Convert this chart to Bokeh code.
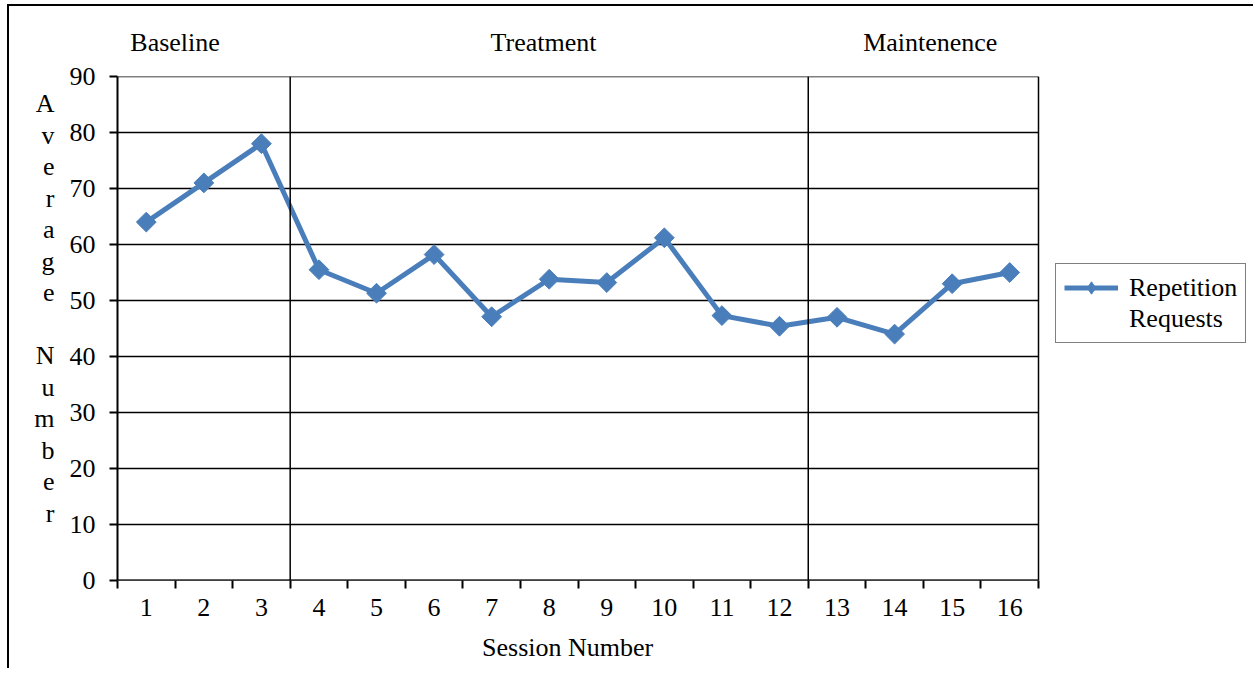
from bokeh.plotting import figure
from bokeh.layouts import column
from bokeh.models import (Range1d, FixedTicker, Span, Legend, LegendItem, LinearAxis, AllLabels)
from bokeh.embed import file_html
from bokeh.resources import INLINE
import numpy as np

# Average number of repetition requests per session
sessions = list(range(1, 17))
requests = [64.0, 71.0, 78.0, 55.5, 51.3, 58.2, 47.1, 53.8, 53.2, 61.2, 47.3, 45.4, 47.0, 44.0, 53.0, 55.0]
tick_labels = [str(s) for s in sessions]
phase_names = ["Baseline", "Treatment", "Maintenence"]
phase_breaks = [3.5, 12.5]
y_ticks = list(range(0, 91, 10))
y_title = "Average Number"
x_title = "Session Number"
series_name = ["Repetition", "Requests"]

FONT = "Liberation Serif"
FS = "26px"
BLUE = "#4a7ebb"

# canvas / plotting-area geometry (pixels)
W, H = 1246, 664
LEFT, TOP, BOTTOM = 108, 70, 90
AREA_W = 921                      # width used by the 16 sessions
PX_PER_X = AREA_W / 16.0
PX_PER_Y = (H - TOP - BOTTOM) / 90.0
x_lo, x_hi = 0.5, 16.5
x_end = x_lo + (W - LEFT) / PX_PER_X   # extra room on the right holds the legend

p = figure(width=W, height=H, output_backend="svg", toolbar_location=None,
           x_range=Range1d(x_lo, x_end), y_range=Range1d(0, 90),
           min_border_left=LEFT, min_border_right=0, min_border_top=TOP, min_border_bottom=BOTTOM)
p.outline_line_color = None
p.background_fill_color = "white"
p.border_fill_color = "white"
p.grid.visible = False

# horizontal grid lines limited to the session area, plus its right edge
n = len(y_ticks)
p.segment(x0=[x_lo] * n, y0=y_ticks, x1=[x_hi] * n, y1=y_ticks, line_color="black", line_width=1.5)
p.segment(x0=[x_lo], y0=[0], x1=[x_hi], y1=[0], line_color="black", line_width=2)
p.add_layout(Span(location=x_hi, dimension="height", line_color="black", line_width=1.5))

# phase separators
for b in phase_breaks:
    p.add_layout(Span(location=b, dimension="height", line_color="black", line_width=1.5))

# x axis: labels at session centres, ticks on category boundaries
xa = p.xaxis[0]
xa.ticker = FixedTicker(ticks=sessions, minor_ticks=[s + 0.5 for s in range(0, 17)])
xa.major_label_overrides = {s: t for s, t in zip(sessions, tick_labels)}
xa.major_tick_line_color = None
xa.major_tick_out = 8
xa.major_tick_in = 0
xa.minor_tick_line_color = "black"
xa.minor_tick_line_width = 2
xa.minor_tick_out = 8
xa.minor_tick_in = 0
xa.axis_line_color = None
xa.major_label_text_font = FONT
xa.major_label_text_font_size = FS
xa.major_label_text_color = "black"
xa.major_label_standoff = 10

# x title, centred under the session area
x_title_pos = 8.32
xt = LinearAxis(ticker=FixedTicker(ticks=[x_title_pos]),
                major_label_overrides={x_title_pos: x_title}, major_label_policy=AllLabels(),
                axis_line_color=None, major_tick_line_color=None, minor_tick_line_color=None,
                major_tick_out=0, major_tick_in=0, major_label_standoff=14,
                major_label_text_font=FONT, major_label_text_font_size=FS,
                major_label_text_color="black")
p.add_layout(xt, "below")

ya = p.yaxis[0]
ya.ticker = FixedTicker(ticks=y_ticks)
ya.minor_tick_line_color = None
ya.major_tick_line_color = "black"
ya.major_tick_line_width = 2
ya.major_tick_out = 8
ya.major_tick_in = 0
ya.axis_line_color = "black"
ya.axis_line_width = 2
ya.major_label_text_font = FONT
ya.major_label_text_font_size = FS
ya.major_label_text_color = "black"
ya.major_label_standoff = 14

# stacked y title: one letter per line, blank line between the words
letter_y = {}
for i, ch in enumerate(y_title):
    if ch.strip():
        letter_y[(H - BOTTOM - (103 - 6) - 31.5 * i) / PX_PER_Y] = ch
ty = LinearAxis(ticker=FixedTicker(ticks=list(letter_y.keys())),
                major_label_overrides=letter_y, major_label_policy=AllLabels(),
                axis_line_color=None, major_tick_line_color=None, minor_tick_line_color=None,
                major_tick_out=0, major_tick_in=0, major_label_standoff=12,
                major_label_text_font=FONT, major_label_text_font_size=FS,
                major_label_text_color="black")
p.add_layout(ty, "left")

# phase titles above the plot
phase_x = [1.5, 7.9, 14.62]
tp = LinearAxis(ticker=FixedTicker(ticks=phase_x),
                major_label_overrides=dict(zip(phase_x, phase_names)),
                major_label_policy=AllLabels(),
                axis_line_color=None, major_tick_line_color=None, minor_tick_line_color=None,
                major_tick_out=0, major_tick_in=0, major_label_standoff=20,
                major_label_text_font=FONT, major_label_text_font_size=FS,
                major_label_text_color="black")
p.add_layout(tp, "above")

# legend key marker: a diamond drawn beneath the first data marker
key_marker = p.scatter(sessions[:1], requests[:1], marker="diamond", size=14,
                       fill_color=BLUE, line_color=BLUE)
line = p.line(sessions, requests, line_color=BLUE, line_width=5)
pts = p.scatter(sessions, requests, marker="square", angle=np.pi / 4, size=14,
                fill_color=BLUE, line_color=BLUE)
blank = p.line(x=[], y=[], line_alpha=0)

legend = Legend(items=[LegendItem(label=series_name[0], renderers=[line, key_marker]),
                       LegendItem(label=series_name[1], renderers=[blank])],
                location=(938, 237), glyph_width=54, glyph_height=31, label_standoff=11,
                padding=8, margin=0, spacing=0, label_height=31,
                border_line_color="black", border_line_width=1.5,
                label_text_font=FONT, label_text_font_size=FS, label_text_color="black")
p.add_layout(legend, "center")

# page frame: rule along the top and the left side
page = column(p, styles={"box-shadow": "-2px -2px 0 0 black", "vertical-align": "top",
                         "margin-left": "9px", "margin-top": "6px"})

open("out.html", "w").write(file_html(page, INLINE))
